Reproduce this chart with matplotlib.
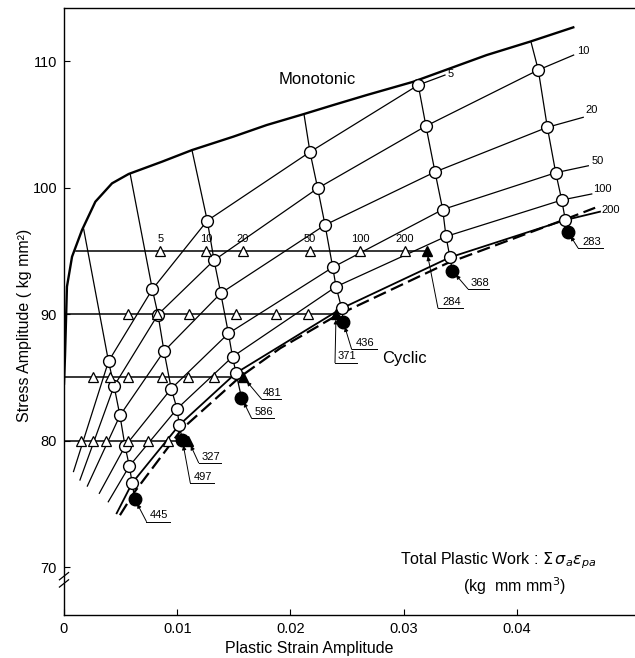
import numpy as np
import matplotlib.pyplot as plt

plt.rcParams['font.family'] = ['Liberation Sans', 'DejaVu Sans']
plt.rcParams['mathtext.fontset'] = 'dejavusans'

n_cycles = [5, 10, 20, 50, 100, 200]

# monotonic stress-strain curve
mono_x = [0.0, 0.00009, 0.00026, 0.00071, 0.00159, 0.00277, 0.00424, 0.00571, 0.00865,
          0.0113, 0.01495, 0.0179, 0.02119, 0.02378, 0.02673, 0.03084, 0.03732, 0.04115, 0.04497]
mono_y = [84.5, 86.7, 92.16, 94.53, 96.64, 98.88, 100.33, 101.07, 102.04,
          102.96, 104.02, 104.94, 105.81, 106.52, 107.31, 108.36, 110.47, 111.53, 112.66]

# constant strain tests: stress at N = 5, 10, 20, 50, 100, 200 (open circles)
col_a_x = [0.00393, 0.00442, 0.00494, 0.00539, 0.00577, 0.00602]
col_a_y = [86.26, 84.31, 81.98, 79.55, 77.98, 76.64]
col_b_x = [0.00780, 0.00830, 0.00883, 0.00947, 0.00998, 0.01018]
col_b_y = [91.95, 89.96, 87.06, 84.10, 82.51, 81.23]
col_c_x = [0.01265, 0.01325, 0.01384, 0.01452, 0.01488, 0.01519]
col_c_y = [97.38, 94.25, 91.64, 88.47, 86.62, 85.34]
col_d_x = [0.02172, 0.02240, 0.02305, 0.02373, 0.02402, 0.02452]
col_d_y = [102.81, 99.94, 97.04, 93.69, 92.16, 90.45]
col_e_x = [0.03128, 0.03196, 0.03276, 0.03344, 0.03373, 0.03408]
col_e_y = [108.10, 104.86, 101.23, 98.26, 96.13, 94.48]
col_f_x = [np.nan, 0.04188, 0.04268, 0.04342, 0.04395, 0.04427]
col_f_y = [np.nan, 109.29, 104.76, 101.17, 99.01, 97.43]

# where each strain test leaves the monotonic curve
top_x = [0.00174, 0.00585, 0.01130, 0.02119, np.nan, 0.04124]
top_y = [96.70, 101.04, 102.96, 105.81, np.nan, 111.50]

# failure points (filled circles) and cycles to failure
fail_x = [0.00624, 0.01045, 0.01567, 0.02466, 0.03429, 0.04448]
fail_y = [75.39, 80.04, 83.40, 89.39, 93.42, 96.51]
fail_n = [445, 497, 586, 436, 368, 283]

# lower-left and right ends of the N curves
start_x = [0.00084, 0.00141, 0.00206, 0.00312, 0.00391, 0.00465]
start_y = [77.55, 76.88, 76.40, 75.83, 75.16, 74.25]
end_x = [0.03364, 0.04500, 0.04585, 0.04630, 0.04660, 0.04733]
end_y = [108.89, 110.47, 105.55, 101.72, 99.49, 98.09]

# constant stress tests (triangles)
stress_levels = [95, 90, 85, 80]
tri_x_95 = [0.00850, 0.01254, 0.01578, 0.02169, 0.02614, 0.03011]
tri_x_90 = [0.00567, 0.00824, 0.01106, 0.01517, 0.01872, 0.02157]
tri_x_85 = [0.00260, 0.00404, 0.00567, 0.00868, 0.01097, 0.01326]
tri_x_80 = [0.00148, 0.00260, 0.00368, 0.00565, 0.00740, 0.00920]
tri_fail_x = [0.03203, 0.02402, 0.01583, 0.01099]
tri_fail_n = [284, 371, 481, 327]

# cyclic stress-strain curve
cyc_x = [0.00494, 0.0062, 0.0104, 0.0155, 0.0191, 0.0240, 0.0338, 0.0443, 0.0469]
cyc_y = [74.1, 75.9, 80.9, 85.0, 87.3, 89.85, 94.0, 97.5, 98.4]

fig = plt.figure(figsize=(6.35, 6.58), dpi=100)
ax = fig.add_axes([64 / 635, 1 - 615 / 658, 1 - 64 / 635, 607 / 658])
ax.set_xlim(0, 0.05042)
ax.set_ylim(66.21, 114.19)

ax.plot(mono_x, mono_y, color='k', lw=1.7, zorder=3)

cols_x = [col_a_x, col_b_x, col_c_x, col_d_x, col_e_x, col_f_x]
cols_y = [col_a_y, col_b_y, col_c_y, col_d_y, col_e_y, col_f_y]

# N = const curves
for i, n in enumerate(n_cycles):
    xs = [start_x[i]] + [c[i] for c in cols_x] + [end_x[i]]
    ys = [start_y[i]] + [c[i] for c in cols_y] + [end_y[i]]
    xs = np.array(xs)
    ys = np.array(ys)
    ok = ~np.isnan(xs)
    ax.plot(xs[ok], ys[ok], color='k', lw=1.3 if n == 200 else 0.9, zorder=2)

ax.plot(cyc_x, cyc_y, color='k', lw=1.6, ls=(0, (6, 2.5)), zorder=2)

# strain test lines
for j in range(6):
    xs = [top_x[j]] + list(cols_x[j]) + [fail_x[j]]
    ys = [top_y[j]] + list(cols_y[j]) + [fail_y[j]]
    xs = np.array(xs)
    ys = np.array(ys)
    ok = ~np.isnan(xs)
    ax.plot(xs[ok], ys[ok], color='k', lw=0.9, zorder=2)
    ax.plot(cols_x[j], cols_y[j], 'o', ms=8.5, mfc='white', mec='k', mew=1.0, zorder=5)
ax.plot(fail_x, fail_y, 'o', ms=9, color='k', zorder=5)

# stress test lines
tri_rows = [tri_x_95, tri_x_90, tri_x_85, tri_x_80]
line_start = [0.0011, 0, 0, 0]
for k, s in enumerate(stress_levels):
    ax.plot([line_start[k], tri_fail_x[k]], [s, s], color='k', lw=1.1, zorder=2)
    ax.plot(tri_rows[k], [s] * 6, '^', ms=7.5, mfc='white', mec='k', mew=0.9, zorder=6)
    ax.plot(tri_fail_x[k], s, '^', ms=7.5, color='k', zorder=6)
for x, n in zip(tri_x_95, n_cycles):
    ax.text(x, 95.55, str(n), ha='center', va='bottom', fontsize=8)

# N labels at right
lab_pos = [(0.03391, 108.97), (0.04527, 110.79), (0.04607, 106.09),
           (0.04660, 102.09), (0.04669, 99.88), (0.04748, 98.22)]
for (lx, ly), n in zip(lab_pos, n_cycles):
    ax.text(lx, ly, str(n), ha='left', va='center', fontsize=8)


def leader(px, py, kx, ky, ux, label):
    ax.annotate('', xy=(px, py), xytext=(kx, ky),
                arrowprops=dict(arrowstyle='-|>', lw=0.7, color='k',
                                mutation_scale=6, shrinkA=0, shrinkB=4))
    ax.plot([kx, ux], [ky, ky], color='k', lw=0.7)
    ax.text((kx + ux) / 2 + 0.0001, ky + 0.1, label, ha='center', va='bottom', fontsize=8)


# failure labels: knee position and underline end
fail_knee = [(0.00728, 73.60, 0.00933), (0.01115, 76.66, 0.01322), (0.01657, 81.75, 0.01857),
             (0.02540, 87.21, 0.02761), (0.03567, 91.98, 0.03753), (0.04539, 95.22, 0.04759)]
for j in range(6):
    kx, ky, ux = fail_knee[j]
    leader(fail_x[j], fail_y[j], kx, ky, ux, str(fail_n[j]))
tri_knee = [(0.03302, 90.47, 0.03521), (0.02393, 86.15, 0.02590),
            (0.01746, 83.26, 0.01913), (0.01189, 78.24, 0.01389)]
for k in range(4):
    kx, ky, ux = tri_knee[k]
    leader(tri_fail_x[k], stress_levels[k], kx, ky, ux, str(tri_fail_n[k]))

ax.text(0.02238, 108.5, 'Monotonic', ha='center', va='center', fontsize=12)
ax.text(0.02805, 86.52, 'Cyclic', ha='left', va='center', fontsize=12)
ax.text(0.02967, 70.47, r'Total Plastic Work : $\Sigma\,\sigma_a\varepsilon_{pa}$',
        ha='left', va='center', fontsize=11.5)
ax.text(0.03982, 68.5, r'(kg  mm mm$^3$)', ha='center', va='center', fontsize=11.5)

ax.set_xticks([0, 0.01, 0.02, 0.03, 0.04])
ax.set_xticklabels(['0', '0.01', '0.02', '0.03', '0.04'])
ax.set_yticks([70, 80, 90, 100, 110])
ax.tick_params(direction='in', length=4, width=0.8, labelsize=10.5, pad=5)
ax.spines['right'].set_visible(False)
for sp in ['left', 'bottom', 'top']:
    ax.spines[sp].set_linewidth(1.0)

# axis break marks
for yb in [0.052, 0.064]:
    ax.plot([-0.008, 0.008], [yb - 0.006, yb + 0.006], transform=ax.transAxes,
            color='k', lw=0.9, clip_on=False)

fig.text(25 / 635, 1 - 325 / 658, 'Stress Amplitude ( kg mm²)', rotation=90,
         ha='center', va='center', fontsize=11.5)
fig.text(309 / 635, 1 - 648 / 658, 'Plastic Strain Amplitude', ha='center', va='center',
         fontsize=11.5)

fig.savefig('out.png', dpi=100)
